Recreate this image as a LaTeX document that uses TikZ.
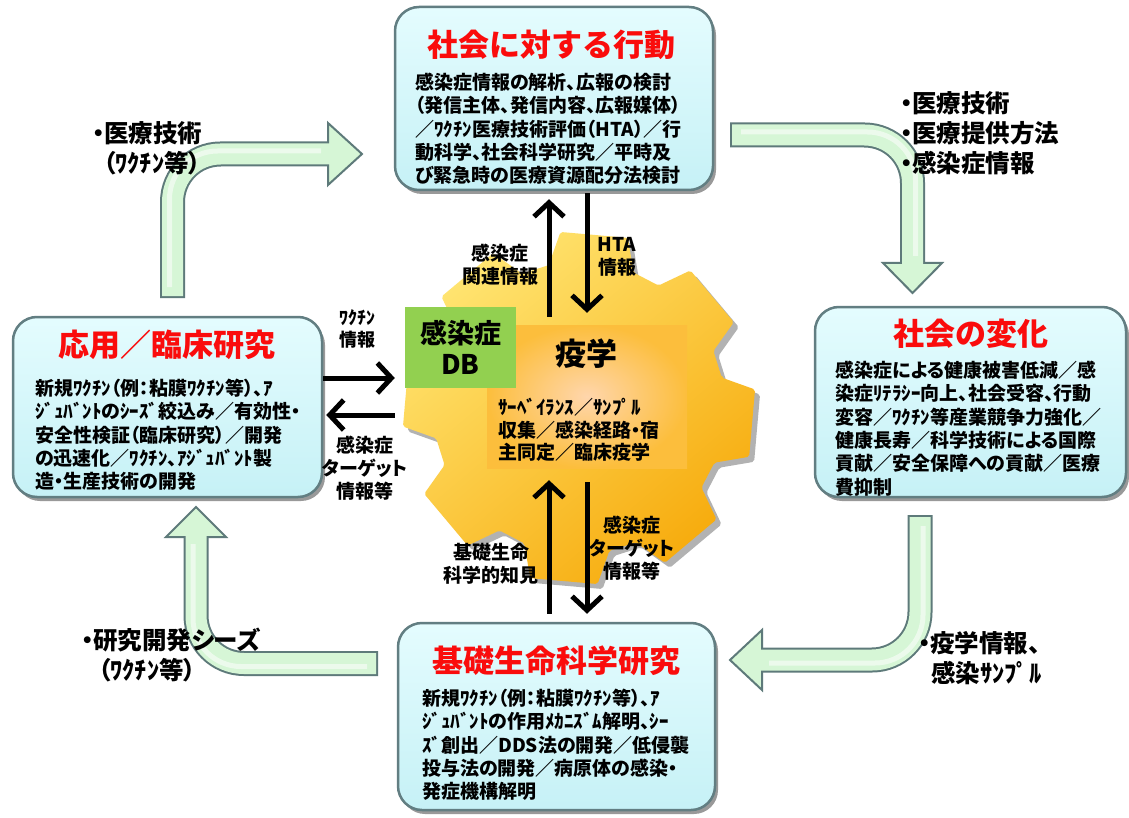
\documentclass[tikz,border=0pt]{standalone}
\usepackage{fontspec}
\setmainfont{Noto Sans CJK JP}[RawFeature=+palt]
\newfontfamily\headfont{Noto Sans CJK JP}
\usetikzlibrary{arrows.meta,calc,shadows}

\definecolor{boxfillA}{RGB}{228,252,254}
\definecolor{boxfillB}{RGB}{198,241,246}
\definecolor{boxline}{RGB}{98,126,130}
\definecolor{arrfill}{RGB}{214,246,214}
\definecolor{arrline}{RGB}{94,122,122}
\definecolor{titlered}{RGB}{250,12,12}
\definecolor{gearA}{RGB}{255,228,112}
\definecolor{gearB}{RGB}{247,172,14}
\definecolor{coreA}{RGB}{255,214,172}
\definecolor{coreB}{RGB}{252,190,60}
\definecolor{dbgreen}{RGB}{146,208,80}

% bent flow arrow: tail, bend, head base, tip, two wing points, highlight offset
\newcommand\bentarrow[7]{%
  \draw[arrline, line width=25pt, rounded corners=48pt] (#1) -- (#2) -- (#3);
  \filldraw[fill=arrfill, draw=arrline, line width=2pt, line join=miter] (#5) -- (#4) -- (#6) -- cycle;
  \draw[arrfill, line width=21pt, rounded corners=48pt] ($(#1)!2pt!(#2)$) -- (#2) -- ($(#3)!-3pt!(#2)$);
  \draw[white, opacity=0.55, line width=5pt, rounded corners=48pt, transform canvas={shift={#7}}]
    ($(#1)!8pt!(#2)$) -- (#2) -- ($(#3)!4pt!(#2)$);
}

\begin{document}
\begin{tikzpicture}[x=1pt, y=-1pt,
  panel/.style={draw=boxline, line width=2.5pt, rounded corners=24pt,
    top color=boxfillA, bottom color=boxfillB,
    drop shadow={shadow xshift=3pt, shadow yshift=-4pt, opacity=0.4, fill=black}},
  heading/.style={font=\headfont\bfseries\fontsize{31}{34}\selectfont, text=titlered, inner sep=0pt},
  bodytext/.style={font=\bfseries\fontsize{19}{23.3}\selectfont, align=left, inner sep=0pt, anchor=north west},
  flowlabel/.style={font=\bfseries\fontsize{19}{23}\selectfont, align=center, inner sep=0pt},
  sidelabel/.style={font=\bfseries\fontsize{24.5}{30}\selectfont, align=left, inner sep=0pt, anchor=north west},
  infoarrow/.style={line width=5pt, -{Straight Barb[length=14pt, width=30pt]}},
  gear/.style={top color=gearA, bottom color=gearB, shading angle=40,
    drop shadow={shadow xshift=5pt, shadow yshift=-5pt, opacity=0.3, fill=black}},
  core/.style={inner color=coreA, outer color=coreB, inner sep=0pt},
  dbbox/.style={fill=dbgreen, inner sep=0pt, align=center,
    font=\bfseries\fontsize{27}{31}\selectfont},
]
\fill[white] (0,0) rectangle (1129,818);
\useasboundingbox (0,0) rectangle (1129,818);

% ---- central gear (epidemiology) ----
\coordinate (gc) at (579,408);
\path[gear, rounded corners=2pt] ($(gc)+(-12:146)$)
  \foreach \a in {5,50,...,320}{ -- ($(gc)+(\a-17:146)$) -- ($(gc)+(\a-11:177)$)
    -- ($(gc)+(\a+11:177)$) -- ($(gc)+(\a+17:146)$) } -- cycle;
\node[core, minimum width=200pt, minimum height=143pt] (core) at (587,396.5) {};
\node[dbbox, minimum width=111pt, minimum height=81pt] (db) at (460.5,347.5) {感染症\\DB};
\node[font=\headfont\bfseries\fontsize{31}{34}\selectfont, inner sep=0pt] (epi) at (586,354) {疫学};
\node[bodytext, font=\bfseries\fontsize{19}{22.5}\selectfont] (epi-b) at (498,398)
  {ｻｰﾍﾞｲﾗﾝｽ／ｻﾝﾌﾟﾙ\\収集／感染経路・宿\\主同定／臨床疫学};

% ---- four panels ----
\node[panel, minimum width=318pt, minimum height=183pt] (act) at (554,98.5) {};
\node[panel, minimum width=309pt, minimum height=180pt] (app) at (167.5,407) {};
\node[panel, minimum width=311pt, minimum height=190pt] (soc) at (970.5,402) {};
\node[panel, minimum width=317pt, minimum height=187pt] (bas) at (556.5,716.5) {};

\node[heading] (act-t) at (551,45) {社会に対する行動};
\node[bodytext] (act-b) at (415,73)
  {感染症情報の解析、広報の検討\\（発信主体、発信内容、広報媒体）\\／ﾜｸﾁﾝ医療技術評価（HTA）／行\\動科学、社会科学研究／平時及\\び緊急時の医療資源配分法検討};

\node[heading] (app-t) at (167,345) {応用／臨床研究};
\node[bodytext] (app-b) at (35,379)
  {新規ﾜｸﾁﾝ（例：粘膜ﾜｸﾁﾝ等）、ｱ\\ｼﾞｭﾊﾞﾝﾄのｼｰｽﾞ絞込み／有効性・\\安全性検証（臨床研究）／開発\\の迅速化／ﾜｸﾁﾝ、ｱｼﾞｭﾊﾞﾝﾄ製\\造・生産技術の開発};

\node[heading] (soc-t) at (971,334) {社会の変化};
\node[bodytext] (soc-b) at (835,361)
  {感染症による健康被害低減／感\\染症ﾘﾃﾗｼｰ向上、社会受容、行動\\変容／ﾜｸﾁﾝ等産業競争力強化／\\健康長寿／科学技術による国際\\貢献／安全保障への貢献／医療\\費抑制};

\node[heading] (bas-t) at (556,661) {基礎生命科学研究};
\node[bodytext] (bas-b) at (422,689)
  {新規ﾜｸﾁﾝ（例：粘膜ﾜｸﾁﾝ等）、ｱ\\ｼﾞｭﾊﾞﾝﾄの作用ﾒｶﾆｽﾞﾑ解明、ｼｰ\\ｽﾞ創出／DDS法の開発／低侵襲\\投与法の開発／病原体の感染・\\発症機構解明};

% ---- information arrows around the gear ----
\coordinate (xL) at (549,0);
\coordinate (xR) at (587,0);
\coordinate (yA) at (0,378);
\coordinate (yB) at (0,415);
\draw[infoarrow, shorten <=8pt, shorten >=8pt] (xL |- core.north) -- (xL |- act.south);
\draw[infoarrow, shorten <=2pt, shorten >=12pt] (xR |- act.south) -- (xR |- core.north);
\draw[infoarrow, shorten <=8pt, shorten >=12pt] (xL |- bas.north) -- (xL |- core.south);
\draw[infoarrow, shorten <=14pt, shorten >=8pt] (xR |- core.south) -- (xR |- bas.north);
\draw[infoarrow, shorten >=10pt] (yA -| app.east) -- (yA -| db.west);
\draw[infoarrow, shorten <=10pt, shorten >=3pt] (yB -| db.west) -- (yB -| app.east);

\node[flowlabel] (l-dis) at (500,265) {感染症\\関連情報};
\node[flowlabel] (l-hta) at (617,257) {HTA\\情報};
\node[flowlabel, font=\bfseries\fontsize{18}{22}\selectfont] (l-vac) at (357,329) {ﾜｸﾁﾝ\\情報};
\node[flowlabel] (l-tgt1) at (365,468) {感染症\\ターゲット\\情報等};
\node[flowlabel] (l-bio) at (491,564) {基礎生命\\科学的知見};
\node[flowlabel] (l-tgt2) at (632,548) {感染症\\ターゲット\\情報等};

% ---- cycle arrows between panels ----
\coordinate (tl-a) at (172.5,298);  \coordinate (tl-b) at (172.5,154);
\coordinate (tl-c) at (328,154);    \coordinate (tl-d) at (362,154);
\coordinate (tl-e) at (328,123);    \coordinate (tl-f) at (328,185);
\bentarrow{tl-a}{tl-b}{tl-c}{tl-d}{tl-e}{tl-f}{(-3,-3)}

\coordinate (tr-a) at (730,135);    \coordinate (tr-b) at (912.5,135);
\coordinate (tr-c) at (912.5,263);  \coordinate (tr-d) at (912.5,293);
\coordinate (tr-e) at (883,263);    \coordinate (tr-f) at (942,263);
\bentarrow{tr-a}{tr-b}{tr-c}{tr-d}{tr-e}{tr-f}{(3,-3)}

\coordinate (br-a) at (920,515);    \coordinate (br-b) at (920,660);
\coordinate (br-c) at (762,660);    \coordinate (br-d) at (730,660);
\coordinate (br-e) at (762,630);    \coordinate (br-f) at (762,690);
\bentarrow{br-a}{br-b}{br-c}{br-d}{br-e}{br-f}{(3,3)}

\coordinate (bl-a) at (378,663.5);  \coordinate (bl-b) at (196,663.5);
\coordinate (bl-c) at (196,537);    \coordinate (bl-d) at (196,507);
\coordinate (bl-e) at (166,537);    \coordinate (bl-f) at (226,537);
\bentarrow{bl-a}{bl-b}{bl-c}{bl-d}{bl-e}{bl-f}{(-3,3)}

\node[sidelabel] (s-tl) at (92,121) {・医療技術\\\hspace*{11pt}（ﾜｸﾁﾝ等）};
\node[sidelabel] (s-tr) at (900,91) {・医療技術\\・医療提供方法\\・感染症情報};
\node[sidelabel] (s-br) at (918,631) {・疫学情報、\\\hspace*{13pt}感染ｻﾝﾌﾟﾙ};
\node[sidelabel] (s-bl) at (81,628) {・研究開発シーズ\\\hspace*{17pt}（ﾜｸﾁﾝ等）};
\end{tikzpicture}
\end{document}
